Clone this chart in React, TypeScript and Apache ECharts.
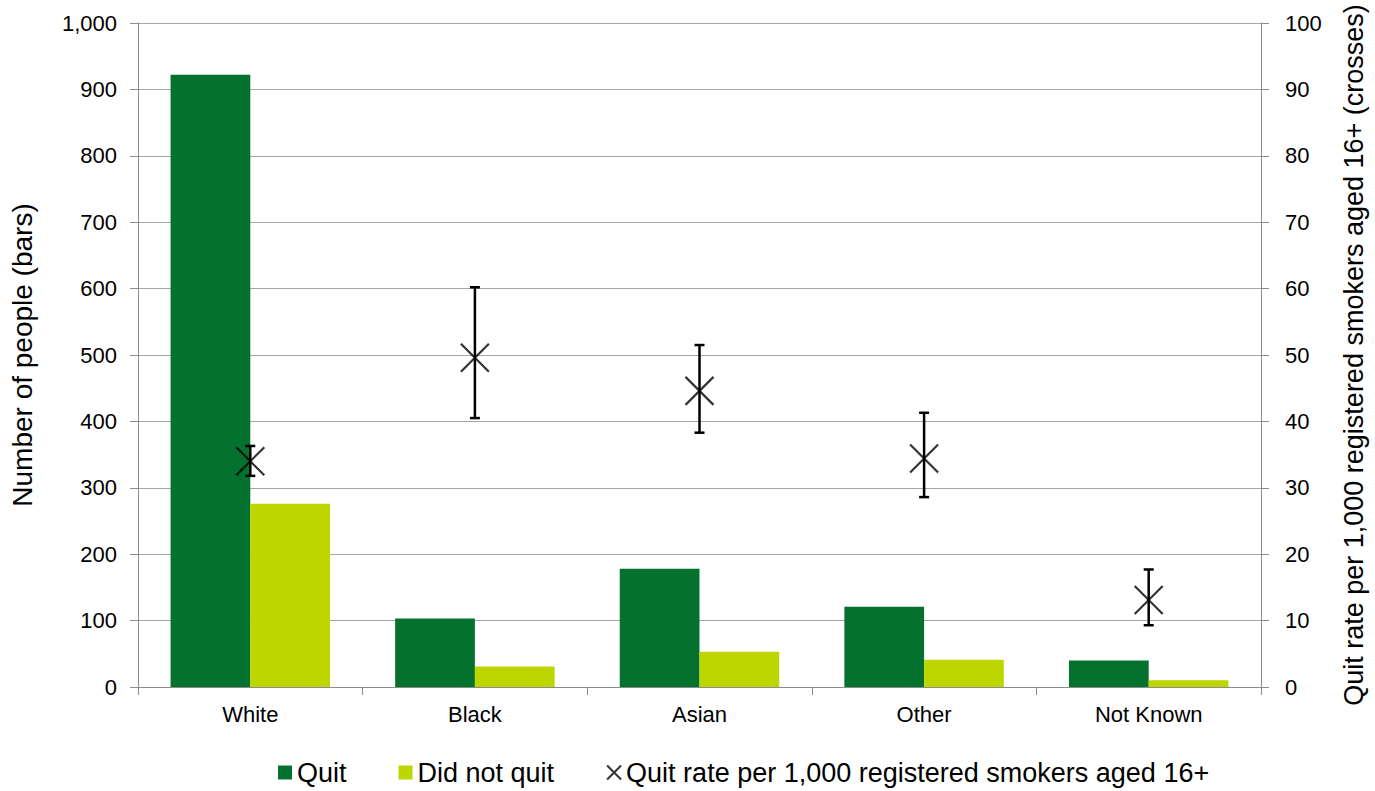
import React, { useEffect, useRef } from "react";
import * as echarts from "echarts";

// Ethnic group categories
const categories = ["White", "Black", "Asian", "Other", "Not Known"];

// Number of people (left axis, bars)
const quitCounts = [922, 103, 178, 121, 40];
const notQuitCounts = [276, 31, 53, 41, 10];

// Quit rate per 1,000 registered smokers aged 16+ (right axis, crosses)
const quitRate = [34.0, 49.6, 44.6, 34.4, 13.1];
const rateLower = [31.8, 40.5, 38.3, 28.6, 9.3];
const rateUpper = [36.3, 60.2, 51.5, 41.3, 17.7];

const FONT = "'Liberation Sans', Arial, Helvetica, sans-serif";
const CROSS = "path://M0,0L20,20M20,0L0,20";
const RATE_NAME = "Quit rate per 1,000 registered smokers aged 16+";

export default function App() {
  const ref = useRef<HTMLDivElement>(null);

  useEffect(() => {
    if (!ref.current) return;
    const chart = echarts.init(ref.current, undefined, { renderer: "svg" });

    const errorData = categories.map((_, i) => [i, rateLower[i], rateUpper[i]]);

    chart.setOption({
      animation: false,
      backgroundColor: "#ffffff",
      textStyle: { fontFamily: FONT, color: "#000" },
      grid: { left: 136, right: 107, top: 23, bottom: 104, containLabel: false },
      legend: {
        left: 278,
        top: 759,
        padding: 0,
        itemGap: 52,
        itemWidth: 14,
        itemHeight: 14,
        textStyle: { fontSize: 27, color: "#000", fontFamily: FONT },
        data: [
          { name: "Quit", icon: "rect" },
          { name: "Did not quit", icon: "rect" },
          {
            name: RATE_NAME,
            icon: CROSS,
            itemStyle: { color: "transparent", borderColor: "#000", borderWidth: 2 },
          },
        ],
      },
      xAxis: {
        type: "category",
        data: categories,
        axisLine: { show: true, lineStyle: { color: "#8c8c8c", width: 1 } },
        axisTick: { show: true, length: 8, alignWithLabel: false, lineStyle: { color: "#8c8c8c" } },
        axisLabel: { fontSize: 22, color: "#000", margin: 16, fontFamily: FONT },
        splitLine: { show: false },
      },
      yAxis: [
        {
          type: "value",
          min: 0,
          max: 1000,
          interval: 100,
          name: "Number of people (bars)",
          nameLocation: "middle",
          nameRotate: 90,
          nameGap: 102,
          nameTextStyle: { fontSize: 28, color: "#000", fontFamily: FONT },
          axisLine: { show: true, lineStyle: { color: "#8c8c8c", width: 1 } },
          axisTick: { show: true, length: 8, lineStyle: { color: "#8c8c8c" } },
          axisLabel: {
            fontSize: 22,
            color: "#000",
            margin: 21,
            fontFamily: FONT,
            formatter: (v: number) => v.toLocaleString("en-US"),
          },
          splitLine: { show: true, lineStyle: { color: "#a6a6a6", width: 1 } },
        },
        {
          type: "value",
          min: 0,
          max: 100,
          interval: 10,
          position: "right",
          name: "Quit rate per 1,000 registered smokers aged 16+ (crosses)",
          nameLocation: "middle",
          nameRotate: 90,
          nameGap: 79,
          nameTextStyle: { fontSize: 27, color: "#000", fontFamily: FONT },
          axisLine: { show: true, lineStyle: { color: "#8c8c8c", width: 1 } },
          axisTick: { show: true, length: 8, lineStyle: { color: "#8c8c8c" } },
          axisLabel: { fontSize: 22, color: "#000", margin: 24, fontFamily: FONT },
          splitLine: { show: false },
        },
      ],
      series: [
        {
          name: "Quit",
          type: "bar",
          yAxisIndex: 0,
          data: quitCounts,
          barGap: "0%",
          barCategoryGap: "29%",
          itemStyle: { color: "#04722e" },
        },
        {
          name: "Did not quit",
          type: "bar",
          yAxisIndex: 0,
          data: notQuitCounts,
          barGap: "0%",
          barCategoryGap: "29%",
          itemStyle: { color: "#bdd600" },
        },
        {
          name: "Error",
          type: "custom",
          yAxisIndex: 1,
          z: 3,
          data: errorData,
          encode: { x: 0, y: [1, 2] },
          renderItem: (_params: any, api: any) => {
            const idx = api.value(0);
            const lo = api.coord([idx, api.value(1)]);
            const hi = api.coord([idx, api.value(2)]);
            const cap = 5;
            const st = { stroke: "#000", lineWidth: 2.5 };
            return {
              type: "group",
              children: [
                { type: "line", shape: { x1: hi[0], y1: hi[1], x2: lo[0], y2: lo[1] }, style: st },
                { type: "line", shape: { x1: hi[0] - cap, y1: hi[1], x2: hi[0] + cap, y2: hi[1] }, style: st },
                { type: "line", shape: { x1: lo[0] - cap, y1: lo[1], x2: lo[0] + cap, y2: lo[1] }, style: st },
              ],
            };
          },
        },
        {
          name: RATE_NAME,
          type: "scatter",
          yAxisIndex: 1,
          z: 4,
          data: quitRate,
          symbol: CROSS,
          symbolSize: 28,
          itemStyle: { color: "transparent", borderColor: "#000", borderWidth: 2.2 },
        },
      ],
    });

    return () => chart.dispose();
  }, []);

  return (
    <div
      ref={ref}
      style={{ position: "fixed", left: 0, top: 0, width: 1375, height: 791, background: "#fff" }}
    />
  );
}
